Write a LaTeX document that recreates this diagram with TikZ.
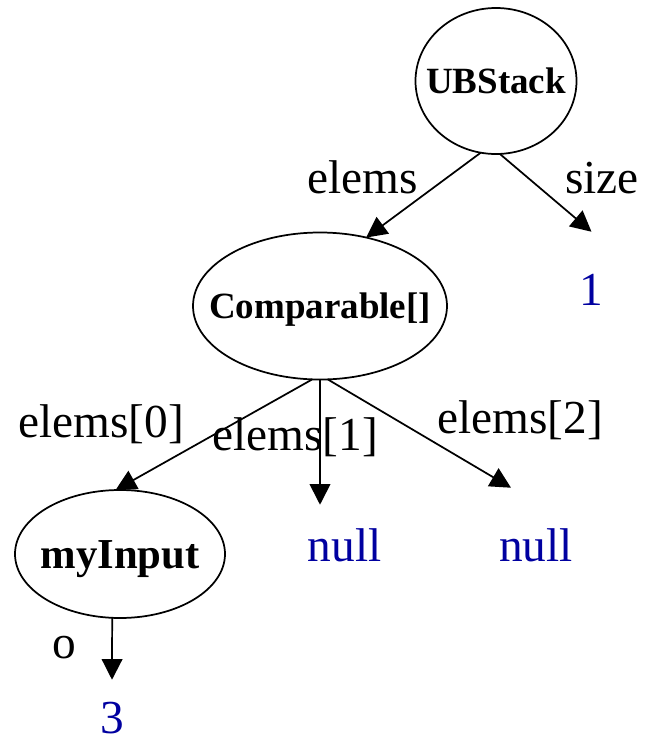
\documentclass[tikz,border=0pt]{standalone}
\usepackage{fontspec}
\setmainfont{Liberation Serif}
\usetikzlibrary{arrows.meta,shapes.geometric}
\definecolor{valblue}{RGB}{0,0,160}
\newcommand\ctext[1]{\makebox[0pt]{\raisebox{-0.33em}[0pt][0pt]{#1}}}
\begin{document}
\begin{tikzpicture}[x=0.75pt,y=-0.75pt,
  obj/.style={draw,ellipse,line width=1.3pt,inner sep=0pt,outer sep=0pt,font=\fontsize{27.75}{30}\selectfont\bfseries},
  val/.style={inner sep=0pt,anchor=base,text=valblue,font=\fontsize{35.5}{40}\selectfont},
  lbl/.style={inner sep=0pt,anchor=base west,font=\fontsize{35.5}{40}\selectfont},
  edge/.style={line width=1.3pt,-{Triangle[length=15.5pt,width=15.5pt]}}]
\useasboundingbox (0,0) rectangle (654,739);
% objects
\node[obj,minimum width=120.75pt,minimum height=109.5pt] (ub) at (496,81) {\ctext{UBStack}};
\node[obj,minimum width=190.5pt,minimum height=110.25pt] (cmp) at (320,306) {\ctext{Comparable[]}};
\node[obj,minimum width=157.5pt,minimum height=96pt,font=\fontsize{32}{36}\selectfont\bfseries] (my) at (120,554) {\ctext{myInput}};
% values
\node[val,text height=54.75pt] (one) at (591.5,305) {1};
\node[val,text height=42pt] (nA) at (344.5,561) {null};
\node[val,text height=54.75pt] (nB) at (536,561) {null};
\node[val,text height=39.75pt] (three) at (112,733) {3};
% edges
\draw[edge] (ub.-102.5) -- (cmp.56);
\draw[edge] (ub.-87) -- (one.north);
\draw[edge] (cmp.-96) -- (my.94);
\draw[edge] (cmp.south) -- (cmp.south |- nA.north);
\draw[edge] (cmp.-84) -- ([xshift=-18.75pt]nB.north);
\draw[edge] (my.-97) -- (three.north);
% edge labels
\node[lbl] (lelems) at (307,193) {elems};
\node[lbl] (lsize) at (565,193) {size};
\node[lbl] (le0) at (18,437) {elems[0]};
\node[lbl] (le1) at (212,450) {elems[1]};
\node[lbl] (le2) at (437,433) {elems[2]};
\node[lbl] (lo) at (52,658) {o};
\end{tikzpicture}
\end{document}
